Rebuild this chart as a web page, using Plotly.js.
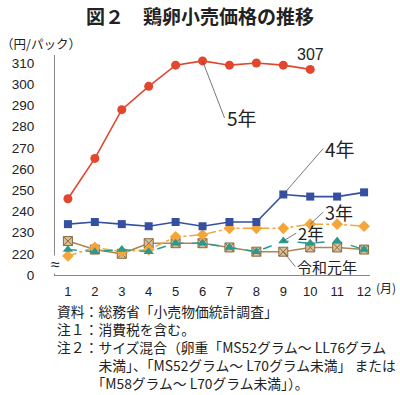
<!DOCTYPE html>
<html>
<head>
<meta charset="utf-8">
<script src="https://cdn.plot.ly/plotly-3.0.1.min.js"></script>
<style>html,body{margin:0;padding:0;background:#fff;}#chart{width:400px;height:395px;}</style>
</head>
<body>
<div id="chart"></div>
<script>
// ---- data ----
const months = [1,2,3,4,5,6,7,8,9,10,11,12];
const tickLabels = ["1","2","3","4","5","6","7","8","9","10","11","12"];
const yTickVals = [210,220,230,240,250,260,270,280,290,300,310];
const yTickText = ["0","220","230","240","250","260","270","280","290","300","310"];
const seriesNames = ["令和元年","2年","3年","4年","5年"];
const valsR1 = [226,222,220,225,225,225,223,221,221,223,223,222];
const valsR2 = [222,221,222,221,225,225,223,221,226,225,226,222];
const valsR3 = [219,223,221,222,228,229,232,232,232,234,234,233];
const valsR4 = [234,235,234,233,235,233,235,235,248,247,247,249];
const valsR5 = [246,265,288,299,309,311,309,310,309,307];
const noteLines = [
  "資料：総務省「小売物価統計調査」",
  "注１：消費税を含む。",
  "注２：サイズ混合（卵重「MS52グラム～ LL76グラム",
  "　　　未満」、「MS52グラム～ L70グラム未満」 または",
  "　　　「M58グラム～ L70グラム未満」）。"
];

const numFont = "Liberation Sans, Arial, sans-serif";
const jpFont = "Noto Sans CJK JP, sans-serif";

const traces = [
  {x: months, y: valsR1, name: seriesNames[0], mode: "lines+markers",
   line: {color: "#a8875a", width: 1.6},
   marker: {symbol: "square-x", size: 9, color: "#d7c09a", line: {color: "#8a6a40", width: 1}}},
  {x: months, y: valsR3, name: seriesNames[2], mode: "lines+markers",
   line: {color: "#f2a640", width: 1.5, dash: "dashdot"},
   marker: {symbol: "diamond", size: 9, color: "#f5a53a"}},
  {x: months, y: valsR2, name: seriesNames[1], mode: "lines+markers",
   line: {color: "#2a9a8e", width: 1.5, dash: "dash"},
   marker: {symbol: "triangle-up", size: 9, color: "#2a9a8e"}},
  {x: months, y: valsR4, name: seriesNames[3], mode: "lines+markers",
   line: {color: "#3550a0", width: 1.6},
   marker: {symbol: "square", size: 8, color: "#3550a0"}},
  {x: months.slice(0, valsR5.length), y: valsR5, name: seriesNames[4], mode: "lines+markers",
   line: {color: "#e2472d", width: 1.6},
   marker: {symbol: "circle", size: 9, color: "#e2472d"}}
];

const lastIdx = valsR5.length - 1;
const leader = {showarrow: true, arrowhead: 0, arrowwidth: 0.8, arrowcolor: "#555",
                standoff: 0, startstandoff: 0, xanchor: "left", yanchor: "middle"};

const annotations = [
  Object.assign({}, leader, {x: months[5], y: valsR5[5], ax: 22, ay: 57, text: seriesNames[4],
    font: {family: jpFont, size: 19, color: "#222"}}),
  Object.assign({}, leader, {x: months[8], y: valsR4[8], ax: 40, ay: -46, text: seriesNames[3],
    font: {family: jpFont, size: 19, color: "#222"}}),
  Object.assign({}, leader, {x: months[9], y: valsR3[9], ax: 13, ay: -12, text: seriesNames[2],
    font: {family: jpFont, size: 18, color: "#222"}}),
  Object.assign({}, leader, {x: months[8], y: valsR2[8], ax: 13, ay: -8, text: seriesNames[1],
    font: {family: jpFont, size: 16.5, color: "#222"}}),
  Object.assign({}, leader, {x: months[8], y: valsR1[8], ax: 12, ay: 15, text: seriesNames[0],
    font: {family: jpFont, size: 15, color: "#222"}}),
  {x: months[lastIdx], y: valsR5[lastIdx], text: String(valsR5[lastIdx]), showarrow: false,
   yanchor: "bottom", yshift: 4, font: {family: numFont, size: 16, color: "#222"}},
  {xref: "paper", yref: "paper", x: -0.178, y: 1.0545, xanchor: "left", yanchor: "middle",
   text: "（円/パック）", showarrow: false, font: {family: jpFont, size: 12.5, color: "#222"}},
  {xref: "paper", yref: "paper", x: 1.052, y: -0.055, xanchor: "center", yanchor: "middle",
   text: "(月)", showarrow: false, font: {family: jpFont, size: 12, color: "#222"}},
  {xref: "paper", yref: "paper", x: 0, y: 0.05, xanchor: "center", yanchor: "middle",
   text: "≈", showarrow: false, bgcolor: "#fff", borderpad: 0,
   font: {family: numFont, size: 16, color: "#222"}},
  {xref: "paper", yref: "paper", x: 0, y: -0.108, xanchor: "left", yanchor: "top",
   align: "left", showarrow: false, text: noteLines.join("<br>"),
   font: {family: jpFont, size: 13.8, color: "#222"}}
];

const layout = {
  width: 400, height: 395,
  margin: {l: 55, r: 30, t: 55, b: 120},
  paper_bgcolor: "#fff", plot_bgcolor: "#fff",
  showlegend: false,
  title: {text: "<b>図２　鶏卵小売価格の推移</b>", x: 0.5, xref: "container", xanchor: "center",
          y: 1 - 17/395, yref: "container", yanchor: "middle",
          font: {family: jpFont, size: 19, color: "#222"}},
  xaxis: {range: [0.52, 12.22], tickvals: months, ticktext: tickLabels,
          showgrid: false, zeroline: false, showline: true, linecolor: "#888", linewidth: 1,
          ticks: "", ticklabelstandoff: 4,
          tickfont: {family: numFont, size: 13, color: "#222"}},
  yaxis: {range: [210, 313.8], tickvals: yTickVals, ticktext: yTickText,
          showgrid: false, zeroline: false, showline: true, linecolor: "#888", linewidth: 1,
          ticks: "", ticklabelstandoff: 17,
          tickfont: {family: numFont, size: 13.5, color: "#222"}},
  annotations: annotations
};

Plotly.newPlot("chart", traces, layout, {displayModeBar: false, staticPlot: true});
</script>
</body>
</html>
